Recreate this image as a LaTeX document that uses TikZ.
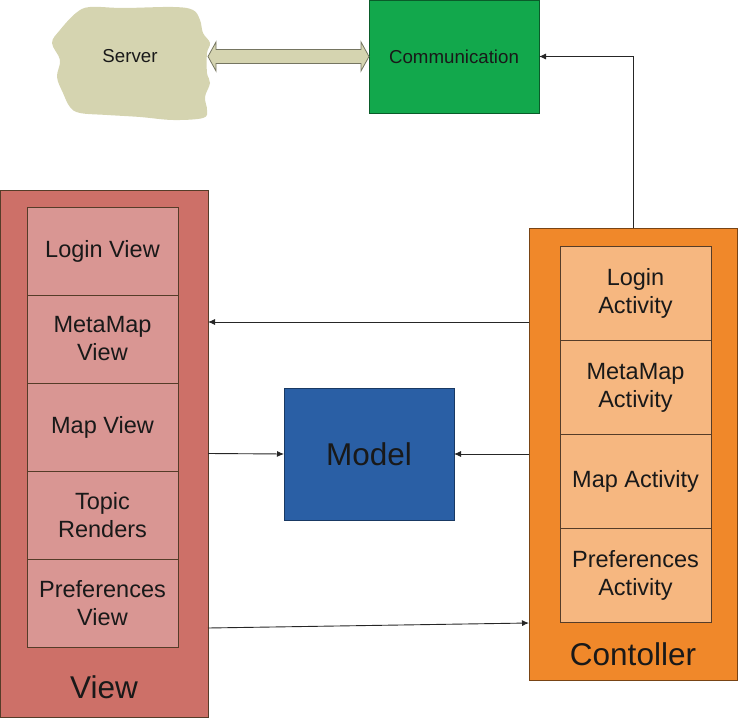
\documentclass[tikz,border=0pt]{standalone}
\usepackage{fontspec}
\setmainfont{Liberation Sans}
\usepackage{xcolor}
\usepackage{tikz}
\usetikzlibrary{positioning,calc,arrows.meta}

\definecolor{viewred}{RGB}{205,112,104}
\definecolor{viewcell}{RGB}{217,150,147}
\definecolor{ctrlorange}{RGB}{240,136,42}
\definecolor{ctrlcell}{RGB}{246,183,128}
\definecolor{modelblue}{RGB}{42,95,165}
\definecolor{commgreen}{RGB}{18,168,76}
\definecolor{serverkhaki}{RGB}{213,212,176}
\definecolor{edgebrown}{RGB}{85,60,40}

\begin{document}
\begin{tikzpicture}[
            x=1pt, y=-1pt,
            every node/.style={align=center, inner sep=0pt, outer sep=0pt, text=black!90},
            box/.style={draw=edgebrown, line width=0.8pt, rectangle},
            vcell/.style={box, fill=viewcell, minimum width=151pt, minimum height=88pt, font=\fontsize{23.5}{28}\selectfont},
            ccell/.style={box, fill=ctrlcell, minimum width=151pt, minimum height=94pt, font=\fontsize{23.5}{28}\selectfont},
            big/.style={font=\fontsize{31.5}{36}\selectfont},
            small/.style={font=\fontsize{18.7}{22}\selectfont},
            arr/.style={-{Latex[length=7pt,width=6pt]}, line width=0.9pt, draw=black!85}
        ]
        \useasboundingbox (0,0) rectangle (738,719);
        % Server cloud
        \fill[serverkhaki] plot[smooth cycle, tension=0.6] coordinates {
            (76,13) (90,7) (123,8) (173,7) (193,10) (200,20) (203,33) (210,43)
            (207,53) (207,73) (210,83) (205,97) (207,110) (203,118) (173,120)
            (140,117) (107,115) (80,113) (70,107) (63,93) (57,77) (60,60) (52,43) (60,30)};
        \node[small, minimum width=156pt, minimum height=100pt] (server) at (130,56.5) {Server};
        % Communication
        \node[box, draw=commgreen!55!black, fill=commgreen, minimum width=170pt, minimum height=113pt, small] (comm) at (454,56.5) {Communication};
        % Double arrow between server and communication
        \draw[draw=black!45!serverkhaki, line width=0.8pt, fill=serverkhaki]
            (server.east) -- ++(8,-14.5) -- ++(0,7.5) -- ($(comm.west)+(-8,-7)$) -- ++(0,-7.5)
            -- (comm.west) -- ++(-8,14.5) -- ++(0,-7.5) -- ($(server.east)+(8,7)$) -- ++(0,7.5) -- cycle;
        % View
        \node[box, fill=viewred, minimum width=208pt, minimum height=527pt] (view) at (104,453.5) {};
        \node[vcell] (loginv) at (102.5,251) {Login View};
        \node[vcell, below=0pt of loginv] (metav) {MetaMap\\View};
        \node[vcell, below=0pt of metav] (mapv) {Map View};
        \node[vcell, below=0pt of mapv] (topicv) {Topic\\Renders};
        \node[vcell, below=0pt of topicv] (prefv) {Preferences\\View};
        \node[big] (viewlbl) at (104,687) {View};
        % Controller
        \node[box, draw=ctrlorange!50!black, fill=ctrlorange, minimum width=208pt, minimum height=452pt] (ctrl) at (633,454) {};
        \node[ccell] (logina) at (635.5,293.5) {Login\\Activity};
        \node[ccell, below=0pt of logina] (metaa) {MetaMap\\Activity};
        \node[ccell, below=0pt of metaa] (mapa) {Map Activity};
        \node[ccell, below=0pt of mapa] (prefa) {Preferences\\Activity};
        \node[big] (ctrllbl) at (633,654) {Contoller};
        % Model
        \node[box, draw=modelblue!60!black, fill=modelblue, minimum width=170pt, minimum height=132pt, big] (model) at (369,454) {Model};
        % Connectors
        \draw[arr] ([yshift=132pt]ctrl.west) -- ([yshift=131.5pt]view.east);
        \draw[arr] (view.east) -- (model.west);
        \draw[arr] (ctrl.west) -- (model.east);
        \draw[arr] ([yshift=-174.5pt]view.east) -- ([yshift=-169pt]ctrl.west);
        \draw[arr] (ctrl.north) |- (comm.east);
    \end{tikzpicture}
\end{document}
